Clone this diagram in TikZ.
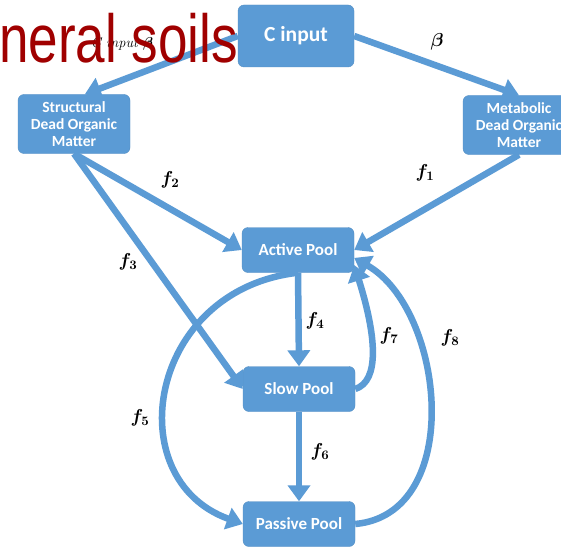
\documentclass[tikz,border=0pt]{standalone}
\usepackage{graphicx}
\usepackage{fontspec}
\usepackage{amsmath}
\newfontfamily\poolfont{Carlito}
\newfontfamily\bannerfont{Liberation Sans}
\usetikzlibrary{arrows.meta}

\definecolor{poolblue}{HTML}{5B9BD5}
\definecolor{bannerred}{HTML}{A00000}

\newcommand\fluxlab[1]{\scalebox{1.3}{$#1$}}

\tikzset{
	pool/.style={rectangle, rounded corners=6pt, fill=poolblue, draw=poolblue!92!black,
		text=white, align=center, inner sep=2pt, minimum width=112pt, minimum height=45pt,
		font=\poolfont\bfseries\fontsize{17}{18}\selectfont},
	dom/.style={pool, minimum height=59pt, font=\poolfont\bfseries\fontsize{15.5}{17}\selectfont},
	flow/.style={draw=poolblue, line width=6.5pt, -{Triangle[width=22pt,length=16pt]}},
	rate/.style={inner sep=1pt, font=\boldmath\fontsize{14.4}{15}\selectfont},
}

\begin{document}
\begin{tikzpicture}[x=1pt, y=-1pt]
	\clip (0,0) rectangle (561,548);
	\fill[white] (0,0) rectangle (561,548);

	% pools
	\node[pool, minimum width=116pt, minimum height=62pt, font=\poolfont\bfseries\fontsize{21.5}{22}\selectfont]
		(cin) at (296,36) {C input};
	\node[dom]	(struct)	at (74,124)		{Structural\\Dead Organic\\Matter};
	\node[dom]	(metab)		at (519,125)	{Metabolic\\Dead Organic\\Matter};
	\node[pool]	(active)	at (298,250)	{Active Pool};
	\node[pool]	(slow)		at (299,389)	{Slow Pool};
	\node[pool]	(passive)	at (299,524)	{Passive Pool};

	% fluxes
	\draw[flow]	(cin.west) -- (struct.70);
	\draw[flow]	(cin.east) -- (metab.north);
	\draw[flow]	(struct.south) -- (active.west);
	\draw[flow]	(struct.south) -- (slow.west);
	\draw[flow]	(metab.south) -- (active.east);
	\draw[flow]	(active.south) -- (slow.north);
	\draw[flow]	(slow.south) -- (passive.north);
	\draw[flow]	(active.south) .. controls +(-150,17) and +(-125,-45) .. (passive.west);
	\draw[flow]	(slow.east) .. controls +(25,-8) and +(22,70) .. (active.-15);
	\draw[flow]	(passive.east) .. controls +(110,-10) and +(91,52) .. (active.-8);

	\node[rate]	(lcin)	at (122,44)		{\textit{C input} $\beta$};
	\node[rate]	(lbeta)	at (437,42)		{\fluxlab{\beta}};
	\node[rate]	(lf1)	at (425,173)	{\fluxlab{f_1}};
	\node[rate]	(lf2)	at (170,180)	{\fluxlab{f_2}};
	\node[rate]	(lf3)	at (128,262)	{\fluxlab{f_3}};
	\node[rate]	(lf4)	at (315,321)	{\fluxlab{f_4}};
	\node[rate]	(lf5)	at (140,418)	{\fluxlab{f_5}};
	\node[rate]	(lf6)	at (320,452)	{\fluxlab{f_6}};
	\node[rate]	(lf7)	at (389,336)	{\fluxlab{f_7}};
	\node[rate]	(lf8)	at (450,338)	{\fluxlab{f_8}};

	\node[anchor=base west, inner sep=0pt, text=bannerred, font=\bannerfont\fontsize{68}{68}\selectfont]
		(banner) at (-1,63) {\scalebox{0.78}[1]{neral soils}};
\end{tikzpicture}
\end{document}
